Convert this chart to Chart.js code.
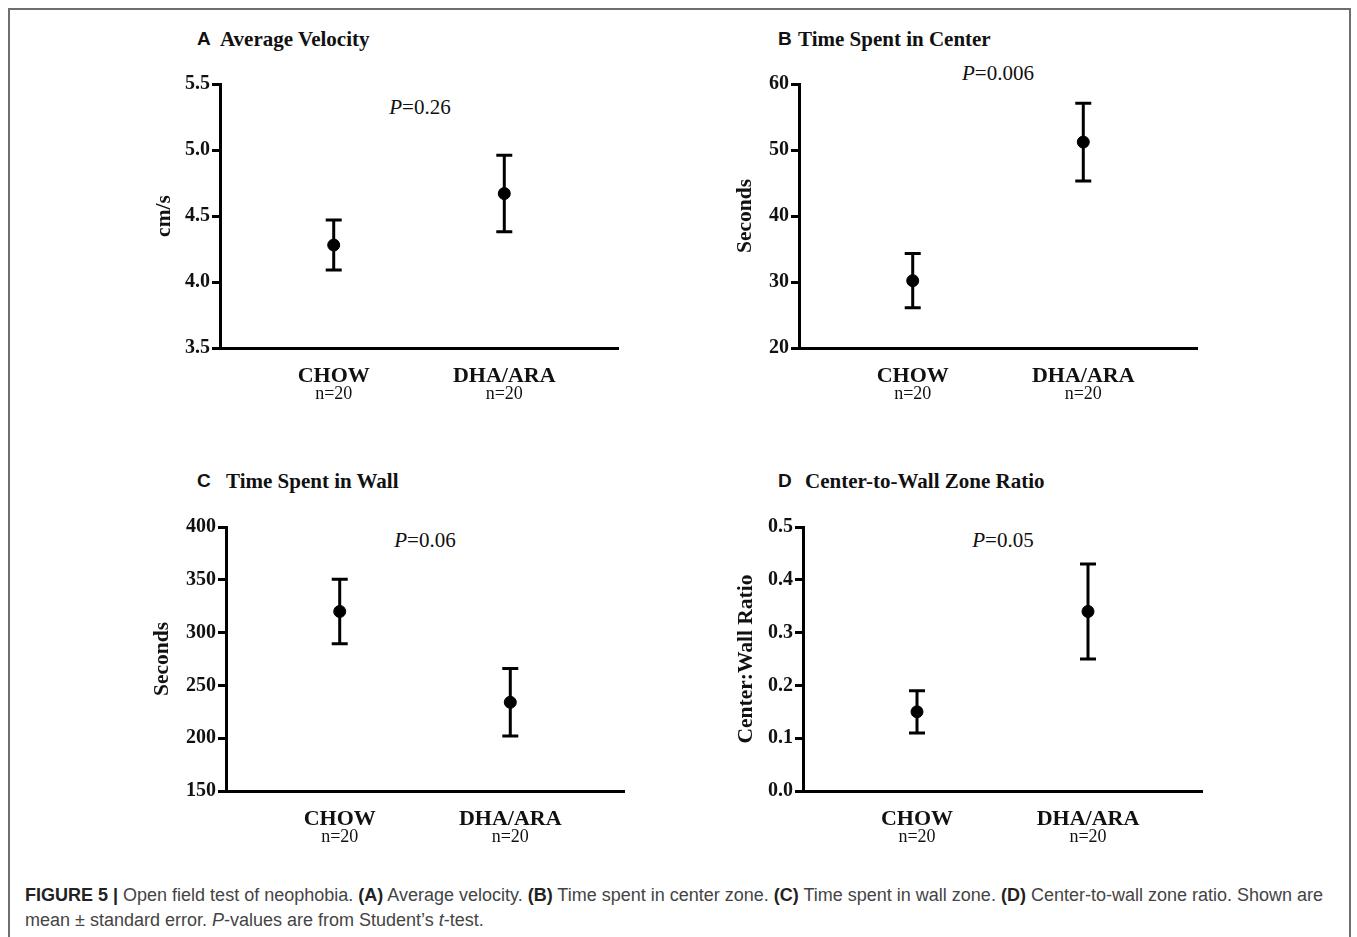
<!DOCTYPE html>
<html>
<head>
<meta charset="utf-8">
<script src="https://cdn.jsdelivr.net/npm/chart.js@4.4.1/dist/chart.umd.min.js"></script>
<style>
body{margin:0;background:#fff;width:1357px;height:937px;overflow:hidden;position:relative;font-family:"Liberation Serif","Times New Roman",serif;}
#frame{position:absolute;left:8px;top:8px;width:1339px;height:980px;border:2px solid #6e6e6e;border-bottom:none;}
canvas{position:absolute;}
.ttl{position:absolute;font-weight:bold;font-size:21px;line-height:24px;color:#111;white-space:nowrap;}
.ttl span{position:absolute;top:0;font-family:"Liberation Sans",Arial,sans-serif;font-size:19px;}
.pv{position:absolute;font-size:21px;line-height:24px;color:#111;white-space:nowrap;transform:translate(-50%,-50%);}
.cap{position:absolute;left:25px;font-family:"Liberation Sans",Arial,sans-serif;font-size:18px;color:#444;white-space:nowrap;line-height:20px;}
.cap b{color:#222;}
</style>
</head>
<body>
<div id="frame"></div>

<div class="ttl" style="left:197px;top:27px;"><span style="left:0">A</span><i style="font-style:normal;margin-left:23px">Average Velocity</i></div>
<div class="ttl" style="left:778px;top:27px;"><span style="left:0">B</span><i style="font-style:normal;margin-left:20px">Time Spent in Center</i></div>
<div class="ttl" style="left:197px;top:469px;"><span style="left:0">C</span><i style="font-style:normal;margin-left:29px">Time Spent in Wall</i></div>
<div class="ttl" style="left:778px;top:469px;"><span style="left:0">D</span><i style="font-style:normal;margin-left:27px">Center-to-Wall Zone Ratio</i></div>

<div class="pv" style="left:420px;top:107px;"><i>P</i>=0.26</div>
<div class="pv" style="left:998px;top:73px;"><i>P</i>=0.006</div>
<div class="pv" style="left:425px;top:540px;"><i>P</i>=0.06</div>
<div class="pv" style="left:1003px;top:540px;"><i>P</i>=0.05</div>

<canvas id="cA"></canvas>
<canvas id="cB"></canvas>
<canvas id="cC"></canvas>
<canvas id="cD"></canvas>

<div class="cap" style="top:885px;"><b>FIGURE 5 |</b> Open field test of neophobia. <b>(A)</b> Average velocity. <b>(B)</b> Time spent in center zone. <b>(C)</b> Time spent in wall zone. <b>(D)</b> Center-to-wall zone ratio. Shown are</div>
<div class="cap" style="top:910px;">mean ± standard error. <i>P</i>-values are from Student’s <i>t</i>-test.</div>

<script>
// groups
const categories = ["CHOW", "DHA/ARA"];
const groupN = ["n=20", "n=20"];

// mean and standard error
const velocityMean = [4.28, 4.67];
const velocitySem  = [0.19, 0.29];
const centerMean   = [30.2, 51.2];
const centerSem    = [4.1, 5.9];
const wallMean     = [320, 234];
const wallSem      = [30.5, 32];
const ratioMean    = [0.15, 0.34];
const ratioSem     = [0.04, 0.09];

const serif = "'Liberation Serif', 'Times New Roman', serif";

// draws the SEM whiskers and the n= line under each category
const errorBars = {
  id: 'errorBars',
  beforeDatasetsDraw(chart) {
    const ctx = chart.ctx, xs = chart.scales.x, ys = chart.scales.y;
    const ds = chart.data.datasets[0];
    ctx.save();
    ctx.strokeStyle = '#000';
    ctx.lineWidth = 3;
    ds.data.forEach((p, i) => {
      const x = xs.getPixelForValue(p.x);
      const yHi = ys.getPixelForValue(p.y + ds.sem[i]);
      const yLo = ys.getPixelForValue(p.y - ds.sem[i]);
      ctx.beginPath();
      ctx.moveTo(x, yHi); ctx.lineTo(x, yLo);
      ctx.moveTo(x - 8, yHi); ctx.lineTo(x + 8, yHi);
      ctx.moveTo(x - 8, yLo); ctx.lineTo(x + 8, yLo);
      ctx.stroke();
    });
    ctx.restore();
  },
  afterDraw(chart) {
    const ctx = chart.ctx, xs = chart.scales.x;
    ctx.save();
    ctx.fillStyle = '#111';
    ctx.font = "18px " + serif;
    ctx.textAlign = 'center';
    ctx.textBaseline = 'middle';
    groupN.forEach((t, i) => {
      ctx.fillText(t, xs.getPixelForValue(i + 1), chart.chartArea.bottom + 46);
    });
    ctx.restore();
  }
};

function makePanel(id, box, yTitle, yTitlePad, mean, sem, min, max, step, dec) {
  const canvas = document.getElementById(id);
  const left = box.l - 80, top = box.t - 12;
  canvas.width = box.r - box.l + 92;
  canvas.height = box.b - box.t + 84;
  canvas.style.left = left + 'px';
  canvas.style.top = top + 'px';
  return new Chart(canvas, {
    type: 'scatter',
    data: {
      datasets: [{
        data: mean.map((m, i) => ({x: i + 1, y: m})),
        sem: sem,
        backgroundColor: '#000',
        borderColor: '#000',
        pointRadius: 6,
        pointHoverRadius: 6
      }]
    },
    options: {
      responsive: false,
      animation: false,
      devicePixelRatio: 1,
      layout: {padding: {top: 12, right: 12, left: 0, bottom: 0}},
      plugins: {legend: {display: false}, tooltip: {enabled: false}},
      scales: {
        x: {
          type: 'linear',
          min: 1 / 3,
          max: 8 / 3,
          afterBuildTicks: s => { s.ticks = categories.map((c, i) => ({value: i + 1})); },
          afterFit: s => { s.height = 72; },
          grid: {drawOnChartArea: false, drawTicks: false},
          border: {color: '#000', width: 3},
          ticks: {
            callback: (v) => categories[Math.round(v) - 1],
            color: '#111',
            padding: 15,
            maxRotation: 0,
            autoSkip: false,
            font: {family: serif, size: 22, weight: 'bold'}
          }
        },
        y: {
          min: min,
          max: max,
          afterFit: s => { s.width = 80; },
          ticks: {
            stepSize: step,
            callback: v => v.toFixed(dec),
            color: '#111',
            padding: 2,
            font: {family: serif, size: 20, weight: 'bold'}
          },
          grid: {drawOnChartArea: false, drawTicks: true, tickLength: 8, tickWidth: 3, tickColor: '#000'},
          border: {color: '#000', width: 3},
          title: {
            display: true,
            text: yTitle,
            color: '#111',
            padding: {top: yTitlePad, bottom: 0},
            font: {family: serif, size: 21.5, weight: 'bold'}
          }
        }
      }
    },
    plugins: [errorBars]
  });
}

makePanel('cA', {l: 220, t: 82, r: 618, b: 348}, 'cm/s', 12, velocityMean, velocitySem, 3.5, 5.5, 0.5, 1);
makePanel('cB', {l: 799, t: 82, r: 1197, b: 348}, 'Seconds', 14, centerMean, centerSem, 20, 60, 10, 0);
makePanel('cC', {l: 226, t: 525, r: 624, b: 791}, 'Seconds', 4, wallMean, wallSem, 150, 400, 50, 0);
makePanel('cD', {l: 803, t: 525, r: 1202, b: 791}, 'Center:Wall Ratio', 11, ratioMean, ratioSem, 0, 0.5, 0.1, 1);
</script>
</body>
</html>
